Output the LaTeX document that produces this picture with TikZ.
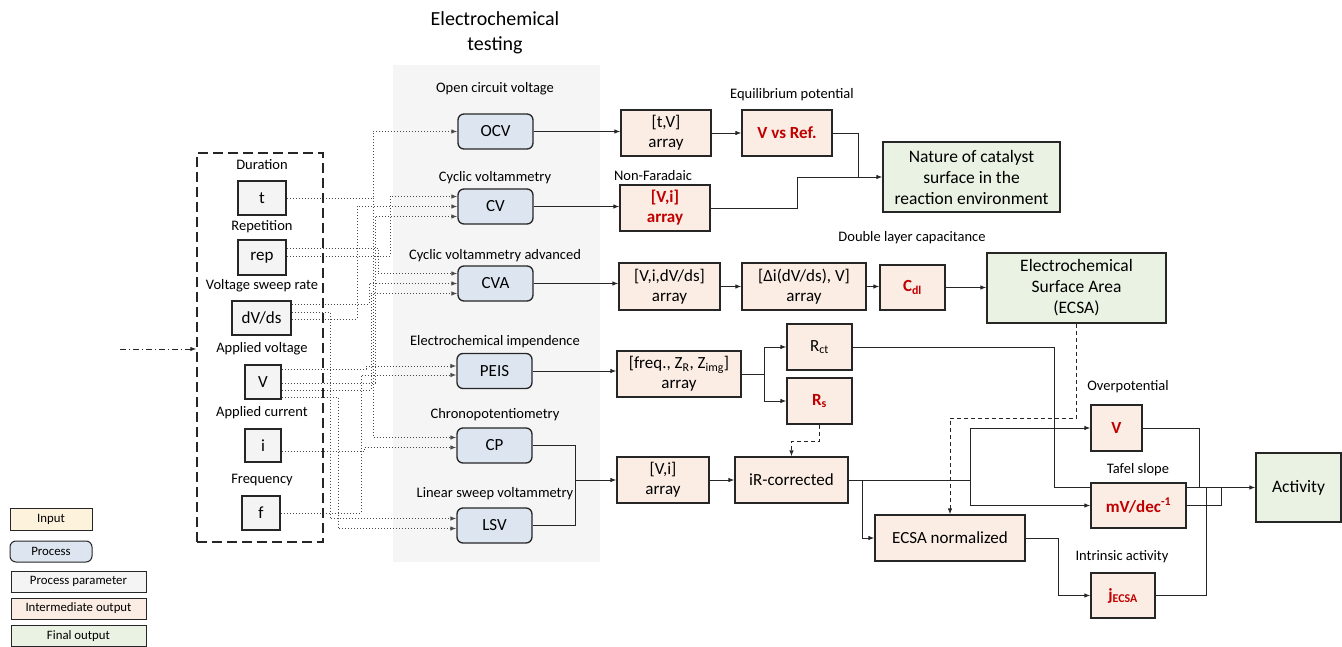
\documentclass[tikz,border=0pt]{standalone}
\usepackage{fontspec}
\setmainfont{Carlito}
\usetikzlibrary{arrows.meta}
\definecolor{parfill}{HTML}{F4F4F4}
\definecolor{procfill}{HTML}{DDE5F0}
\definecolor{interfill}{HTML}{FBEDE4}
\definecolor{finfill}{HTML}{E9F2E3}
\definecolor{infill}{HTML}{FDF2DC}
\definecolor{panelgray}{HTML}{F5F5F5}
\definecolor{redtxt}{HTML}{C00000}
\definecolor{edge}{HTML}{262626}
\pgfdeclarelayer{panel}
\pgfdeclarelayer{conn}
\pgfsetlayers{panel,conn,main}
\tikzset{
  sz/.style 2 args={minimum width=#1pt, minimum height=#2pt},
  box/.style={draw=edge, line width=1.3pt, inner sep=0pt, align=center, font=\fontsize{17}{20}\selectfont},
  param/.style={box, fill=parfill},
  proc/.style={box, fill=procfill, rounded corners=6pt},
  inter/.style={box, fill=interfill},
  fin/.style={box, fill=finfill, font=\fontsize{17.5}{21}\selectfont},
  lgd/.style={line width=1pt, font=\fontsize{12.8}{14}\selectfont},
  lbl/.style={inner sep=0pt, font=\fontsize{14.5}{17}\selectfont},
  red/.style={text=redtxt, font=\fontsize{17}{20}\selectfont\bfseries},
  tip/.style={-{Latex[length=6pt,width=4.5pt]}},
  conn/.style={line width=0.9pt, draw=edge, tip},
  plain/.style={line width=0.9pt, draw=edge},
  dconn/.style={line width=0.9pt, draw=edge, dash pattern=on 4pt off 3pt, tip},
  dotc/.style={line width=0.9pt, draw=black!70, dash pattern=on 1pt off 2pt, tip},
}
\begin{document}
\begin{tikzpicture}[x=1pt,y=-1pt]
\useasboundingbox (0,0) rectangle (1342,647);

% background panel
\begin{pgfonlayer}{panel}
\node[fill=panelgray, inner sep=0pt, sz={207}{497}] (panel) at (496.5,313.5) {};
\end{pgfonlayer}

\node[align=center, font=\fontsize{20}{25}\selectfont] (title) at (495,33) {Electrochemical\\testing};

% input box
\node[draw=edge, line width=1.4pt, dash pattern=on 10pt off 5pt, inner sep=0pt, sz={126}{389}] (inbox) at (260,347.5) {};
\coordinate (inarrow) at (120,349);

% parameters
\node[lbl] (lt) at (262,165) {Duration};
\node[param, sz={48}{34}] (t) at (262,198) {t};
\node[lbl] (lrep) at (262,227) {Repetition};
\node[param, sz={48}{35}] (rep) at (262,257.5) {rep};
\node[lbl] (ldv) at (262,286) {Voltage sweep rate};
\node[param, sz={59}{34}] (dvds) at (261.5,318) {dV/ds};
\node[lbl] (lV) at (262,349) {Applied voltage};
\node[param, sz={36}{34}] (V) at (263,382) {V};
\node[lbl] (li) at (262,413) {Applied current};
\node[param, sz={36}{33}] (i) at (263,445.5) {i};
\node[lbl] (lf) at (262,480) {Frequency};
\node[param, sz={38}{34}] (f) at (261,513) {f};

% processes
\node[lbl] (locv) at (495,89) {Open circuit voltage};
\node[proc, sz={75}{35}] (ocv) at (495.5,131.5) {OCV};
\node[lbl] (lcv) at (495,178) {Cyclic voltammetry};
\node[proc, sz={75}{35}] (cv) at (495.5,206.5) {CV};
\node[lbl] (lcva) at (495,256) {Cyclic voltammetry advanced};
\node[proc, sz={75}{35}] (cva) at (495.5,283.5) {CVA};
\node[lbl] (lpeis) at (495,342) {Electrochemical impendence};
\node[proc, sz={75}{35}] (peis) at (494.5,371) {PEIS};
\node[lbl] (lcp) at (495,415) {Chronopotentiometry};
\node[proc, sz={75}{35}] (cp) at (494.5,445.5) {CP};
\node[lbl] (llsv) at (495,494) {Linear sweep voltammetry};
\node[proc, sz={75}{35}] (lsv) at (494.5,525.5) {LSV};

% intermediate outputs
\node[inter, sz={90}{46}] (tv) at (666,133) {[t,V]\\array};
\node[lbl] (leq) at (792,95) {Equilibrium potential};
\node[inter, sz={90}{46}, red] (vref) at (787,133) {V vs Ref.};
\node[lbl] (lnf) at (653,176) {Non-Faradaic};
\node[inter, sz={90}{46}, red] (vi) at (665,208) {[V,i]\\array};
\node[inter, sz={101}{47}] (vidv) at (669.5,286.5) {[V,i,dV/ds]\\array};
\node[inter, sz={124}{47}] (dai) at (804,286.5) {[Δi(dV/ds), V]\\array};
\node[lbl] (ldl) at (912,238) {Double layer capacitance};
\node[inter, sz={65}{45}, red] (cdl) at (912.5,287.5) {C\textsubscript{dl}};
\node[inter, sz={124}{46}] (freq) at (679,374) {[freq., Z\textsubscript{R}, Z\textsubscript{img}]\\array};
\node[inter, sz={65}{46}] (rct) at (819.5,347) {R\textsubscript{ct}};
\node[inter, sz={65}{46}, red] (rs) at (819.5,401) {R\textsubscript{s}};
\node[inter, sz={92}{46}] (via) at (663,480) {[V,i]\\array};
\node[inter, sz={113}{46}] (irc) at (791.5,480) {iR-corrected};
\node[inter, sz={150}{46}] (ecsan) at (950,538) {ECSA normalized};
\node[lbl] (lov) at (1128,387) {Overpotential};
\node[inter, sz={51}{46}, red] (ovp) at (1116.5,428) {V};
\node[lbl] (ltf) at (1138,470) {Tafel slope};
\node[inter, sz={95}{45}, red] (tafel) at (1138.5,505.5) {mV/dec\textsuperscript{-1}};
\node[lbl] (lia) at (1122,557) {Intrinsic activity};
\node[inter, sz={64}{45}, red] (jecsa) at (1123,595.5) {j\textsubscript{ECSA}};

% final outputs
\node[fin, sz={177}{70}] (nature) at (971.5,177) {Nature of catalyst\\surface in the\\reaction environment};
\node[fin, sz={179}{70}] (ecsa) at (1076.5,288) {Electrochemical\\Surface Area\\(ECSA)};
\node[fin, sz={85}{69}] (act) at (1298.5,487.5) {Activity};

% legend
\node[box, lgd, fill=infill, sz={82}{22}] (lgin) at (51,519) {Input};
\node[proc, lgd, sz={82}{21}] (lgproc) at (51,551.5) {Process};
\node[param, lgd, sz={135}{21}] (lgpar) at (78.5,581.5) {Process parameter};
\node[inter, lgd, sz={135}{21}] (lgint) at (78.5,608.5) {Intermediate output};
\node[fin, lgd, sz={135}{21}] (lgfin) at (78.5,636) {Final output};

% routing coordinates
\coordinate (xj1) at (858,0);
\coordinate (xj2) at (797,0);
\coordinate (xs) at (764,0);
\coordinate (xc) at (575,0);
\coordinate (rsd) at (0,441);
\coordinate (xi) at (970,0);
\coordinate (xe) at (862,0);
\coordinate (xr) at (1054,0);
\coordinate (xo) at (1199,0);
\coordinate (xt) at (1221,0);
\coordinate (xn) at (1058,0);
\coordinate (xj) at (1206,0);
\coordinate (yd) at (0,418);

\coordinate (vT) at (373,0);
\coordinate (vA) at (378,0);
\coordinate (vB) at (390,0);
\coordinate (vC) at (369,0);
\coordinate (vD) at (330,0);
\coordinate (vE) at (357,0);
\coordinate (vF) at (366,0);
\coordinate (vG) at (375,0);
\coordinate (vH) at (371,0);
\coordinate (vK) at (338,0);
\coordinate (vI) at (364,0);
\coordinate (vJ) at (361,0);

\coordinate (rep1) at ([yshift=9.5pt]rep.east);
\coordinate (rep2) at ([yshift=1.5pt]rep.east);
\coordinate (dv1) at ([yshift=14pt]dvds.east);
\coordinate (dv2) at ([yshift=6pt]dvds.east);
\coordinate (dv3) at ([yshift=-1pt]dvds.east);
\coordinate (V1) at ([yshift=13pt]V.east);
\coordinate (V2) at ([yshift=-1pt]V.east);
\coordinate (V3) at ([yshift=-8pt]V.east);
\coordinate (V4) at ([yshift=-15pt]V.east);
\coordinate (i1) at ([yshift=-6pt]i.east);
\coordinate (cv1) at ([yshift=10pt]cv.west);
\coordinate (cv3) at ([yshift=-10pt]cv.west);
\coordinate (cva1) at ([yshift=10pt]cva.west);
\coordinate (cva3) at ([yshift=-10pt]cva.west);
\coordinate (peis1) at ([yshift=5pt]peis.west);
\coordinate (peis2) at ([yshift=-4pt]peis.west);
\coordinate (cp1) at ([yshift=8pt]cp.west);
\coordinate (cp2) at ([yshift=-2pt]cp.west);
\coordinate (lsv1) at ([yshift=7pt]lsv.west);
\coordinate (lsv2) at ([yshift=-3pt]lsv.west);

\begin{pgfonlayer}{conn}
% input arrow
\draw[line width=0.9pt, draw=edge, dash pattern=on 6pt off 3pt on 1pt off 3pt, tip] (inarrow) -- (inarrow -| inbox.west);

% dotted parameter connectors
\draw[dotc] (t.east) -| (vT |- ocv.west) -- (ocv.west);
\draw[dotc] (vT |- t.east) |- (cp1);
\draw[dotc] (rep1) -| (vA |- cva1) -- (cva1);
\draw[dotc] (rep2) -| (vB |- cv1) -- (cv1);
\draw[dotc] (dv1) -| (vC |- cva.west) -- (cva.west);
\draw[dotc] (dv2) -| (vD |- lsv1) -- (lsv1);
\draw[dotc] (dv3) -| (vE |- cv.west) -- (cv.west);
\draw[dotc] (V1) -| (vF |- peis1) -- (peis1);
\draw[dotc] (V2) -| (vG |- cv3) -- (cv3);
\draw[dotc] (V3) -| (vH |- cva3) -- (cva3);
\draw[dotc] (V4) -| (vK |- lsv2) -- (lsv2);
\draw[dotc] (i1) -| (vI |- cp2) -- (cp2);
\draw[dotc] (f.east) -| (vJ |- peis2) -- (peis2);

% solid connectors
\draw[conn] (ocv.east) -- (ocv.east -| tv.west);
\draw[conn] (tv.east) -- (tv.east -| vref.west);
\draw[conn] (vref.east) -| (xj1 |- nature.west) -- (nature.west);
\draw[plain] (vi.east) -| (xj2 |- nature.west) -- (xj1 |- nature.west);
\draw[conn] (cv.east) -- (cv.east -| vi.west);
\draw[conn] (cva.east) -- (cva.east -| vidv.west);
\draw[conn] (vidv.east) -- (vidv.east -| dai.west);
\draw[conn] (dai.east) -- (dai.east -| cdl.west);
\draw[conn] (cdl.east) -- (cdl.east -| ecsa.west);
\draw[conn] (peis.east) -- (peis.east -| freq.west);
\draw[conn] (freq.east) -| (xs |- rct.west) -- (rct.west);
\draw[conn] (xs |- freq.east) |- (rs.west);
\draw[plain] (cp.east) -| (xc |- via.west);
\draw[conn] (lsv.east) -| (xc |- via.west) -- (via.west);
\draw[conn] (via.east) -- (via.east -| irc.west);
\draw[dconn] (rs.south) -- (rs.south |- rsd) -| (irc.north);
\draw[conn] (irc.east) -| (xi |- ovp.west) -- (ovp.west);
\draw[conn] (xi |- irc.east) |- (tafel.west);
\draw[conn] (xe |- irc.east) |- (ecsan.west);
\draw[dconn] (ecsa.south) -- (ecsa.south |- yd) -| (ecsan.north);
\draw[conn] (rct.east) -| (xr |- act.west) -- (act.west);
\draw[plain] (ovp.east) -| (xo |- act.west);
\draw[plain] (tafel.east) -| (xt |- act.west);
\draw[conn] (ecsan.east) -| (xn |- jecsa.west) -- (jecsa.west);
\draw[plain] (jecsa.east) -| (xj |- act.west);
\end{pgfonlayer}
\end{tikzpicture}
\end{document}
